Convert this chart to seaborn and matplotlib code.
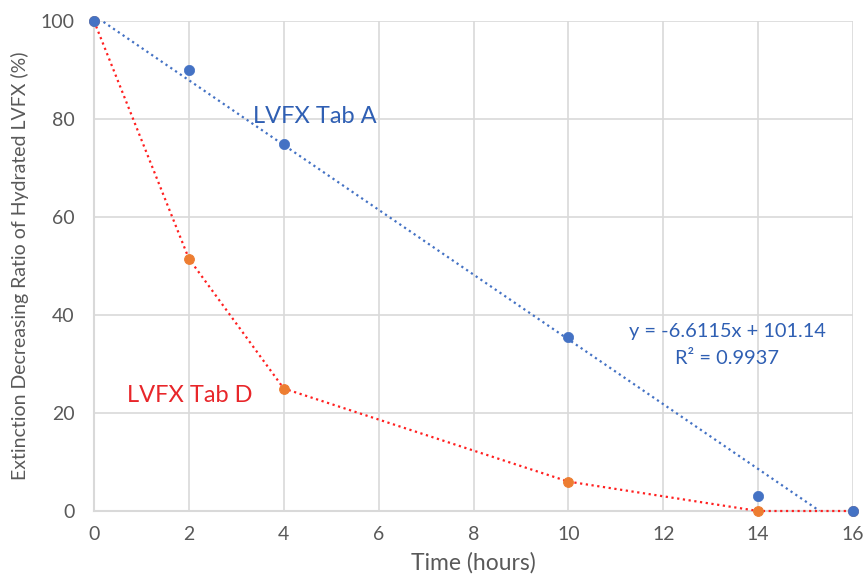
import numpy as np
import pandas as pd
import matplotlib
matplotlib.use("Agg")
import matplotlib.pyplot as plt
import seaborn as sns

# data
time_hours = [0, 2, 4, 10, 14, 16]
tab_a = [100, 90, 75, 35.5, 3, 0]
tab_d = [100, 51.5, 25, 6, 0, 0]

# Excel linear trendline for Tab A (as printed on the chart)
slope = -6.6115
intercept = 101.14
r_squared = 0.9937

x_ticks = [0, 2, 4, 6, 8, 10, 12, 14, 16]
y_ticks = [0, 20, 40, 60, 80, 100]

df = pd.DataFrame({"Time": time_hours, "Tab A": tab_a, "Tab D": tab_d})

sns.set_style("white")
plt.rcParams["font.family"] = ["Lato", "DejaVu Sans"]

blue = "#4472C4"
blue_text = "#2F5FB3"
red = "#FF2020"
orange = "#ED7D31"
grey = "#595959"

fig = plt.figure(figsize=(8.66, 5.87), dpi=100)
ax = fig.add_axes([94 / 866, 1 - 511 / 587, (853 - 94) / 866, (511 - 21) / 587])

# trendline from x=0 down to where it meets zero
x_end = -intercept / slope
trend = pd.DataFrame({"Time": [0, x_end], "fit": [intercept, 0]})
sns.lineplot(data=trend, x="Time", y="fit", ax=ax, color=blue, lw=1.6,
             linestyle=(0, (1, 1.6)), zorder=3)

sns.lineplot(data=df, x="Time", y="Tab D", ax=ax, color=red, lw=1.6,
             linestyle=(0, (1, 1.6)), marker="o", markersize=7,
             markerfacecolor=orange, markeredgecolor=orange, zorder=4,
             clip_on=False)

sns.scatterplot(data=df, x="Time", y="Tab A", ax=ax, color=blue, s=55,
                edgecolor=blue, linewidth=0.5, zorder=5, clip_on=False)

ax.set_xlim(0, 16)
ax.set_ylim(0, 100)
ax.set_xticks(x_ticks)
ax.set_yticks(y_ticks)
ax.grid(True, color="#D9D9D9", lw=1.2)
ax.set_axisbelow(True)
for side in ["top", "right"]:
    ax.spines[side].set_visible(False)
for side in ["left", "bottom"]:
    ax.spines[side].set_color("#D9D9D9")
    ax.spines[side].set_linewidth(1.5)
ax.tick_params(axis="both", length=0, labelsize=14, labelcolor=grey)
ax.tick_params(axis="y", pad=14)
ax.tick_params(axis="x", pad=11)

ax.set_xlabel("Time (hours)", fontsize=16.5, color=grey, labelpad=6)
ax.set_ylabel("Extinction Decreasing Ratio of Hydrated LVFX (%)", fontsize=14,
              color=grey, labelpad=8)

ax.text(3.35, 80.5, "LVFX Tab A", fontsize=17, color=blue_text, va="center")
ax.text(0.7, 23.5, "LVFX Tab D", fontsize=17, color="#E8262A", va="center")
ax.text(15.43, 36.7, f"y = {slope}x + {intercept}", fontsize=14.4, color=blue_text,
        ha="right", va="center")
ax.text(13.35, 31.2, f"R² = {r_squared}", fontsize=14.4, color=blue_text,
        ha="center", va="center")

fig.savefig("out.png", dpi=100)
